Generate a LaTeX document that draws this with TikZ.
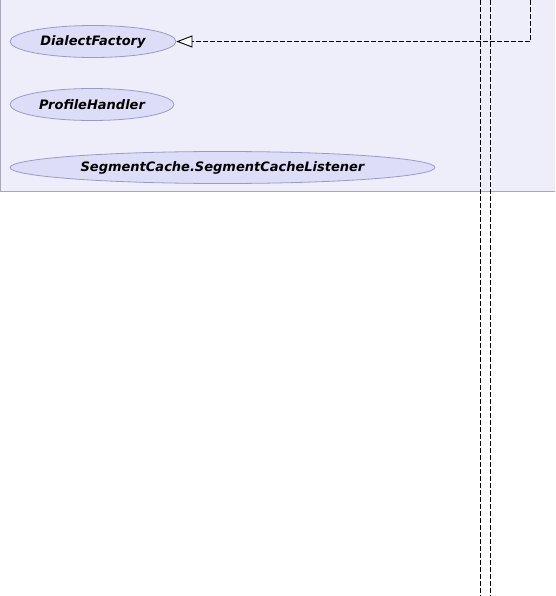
\documentclass[tikz,border=0pt]{standalone}
\usepackage{fontspec}
\setmainfont{DejaVu Sans}
\usetikzlibrary{arrows.meta,shapes.geometric}
\definecolor{clusterfill}{HTML}{EEEEFB}
\definecolor{clusterline}{HTML}{A8A8B8}
\definecolor{ucfill}{HTML}{DDDDF8}
\definecolor{ucline}{HTML}{9A9AC8}
\tikzset{
  cluster/.style={draw=clusterline, fill=clusterfill, line width=1pt},
  uc/.style={ellipse, draw=ucline, fill=ucfill, line width=0.8pt, inner sep=0pt,
    minimum height=32pt, font=\fontsize{13}{15}\selectfont\bfseries\itshape},
  dep/.style={draw=black, line width=0.9pt, dash pattern=on 5pt off 2pt},
  realize/.style={dep, -{Triangle[open, length=16pt, width=12pt, fill=white]}}
}
\begin{document}
\begin{tikzpicture}[x=1pt,y=-1pt]
			%%%%% START %%%%%
			
			\useasboundingbox (0,0) rectangle (555,596);
			\clip (0,0) rectangle (555,596);
			\draw[cluster] (0.5,-5) rectangle (560,191.5);
			
			\node[uc, minimum width=166pt] (dialect) at (93,41.5) {DialectFactory};
			\node[uc, minimum width=164pt] (profile) at (92,104.5) {ProfileHandler};
			\node[uc, minimum width=425pt] (listener) at (222.5,167.5) {SegmentCache.SegmentCacheListener};
			
			\coordinate (leftTop) at (480.5,0);
			\coordinate (leftBot) at (480.5,596);
			\coordinate (midTop) at (490.5,0);
			\coordinate (midBot) at (490.5,596);
			\coordinate (rightTop) at (530.5,0);
			
			\draw[dep] (leftTop) -- (leftBot);
			\draw[dep] (midTop) -- (midBot);
			\draw[realize] (rightTop) |- (dialect.east);
			
			%%%%% END %%%%%
		\end{tikzpicture}
\end{document}
